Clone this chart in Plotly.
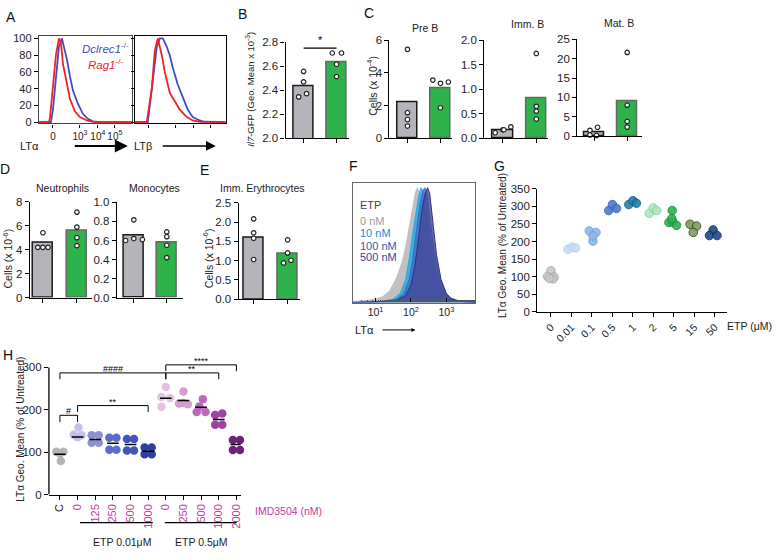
import plotly.graph_objects as go

W, H = 778, 560
FONT = "Arial, Liberation Sans, sans-serif"

# ---------------- data ----------------
# A: histograms (x in display units of each box, y in % of max)
a1_red_x = [0, 10, 11, 14, 17, 20, 22, 24, 28, 31, 36, 41, 48, 54, 61, 93]
a1_red_y = [0, 0, 5, 40, 80, 100, 95, 70, 45, 28, 13, 6, 2, 0.5, 0, 0]
a1_blue_x = [0, 12, 14, 18, 20, 23, 25, 28, 31, 34, 39, 44, 49, 54, 61, 93]
a1_blue_y = [0, 0, 15, 60, 90, 100, 90, 75, 55, 38, 22, 10, 4, 1, 0, 0]
a2_red_x = [0, 12, 17, 20, 23, 27, 30, 35, 40, 45, 52, 58, 65, 91]
a2_red_y = [0, 0, 40, 85, 100, 80, 60, 35, 25, 15, 6, 2, 0.5, 0]
a2_blue_x = [0, 13, 18, 22, 25, 28, 32, 35, 38, 43, 48, 53, 58, 65, 70, 91]
a2_blue_y = [0, 0, 50, 90, 100, 100, 90, 80, 65, 45, 30, 15, 6, 2, 0.5, 0]

# B
b_gray = [2.556, 2.469, 2.344, 2.371]
b_green = [2.71, 2.71, 2.616, 2.513]
b_bars = [2.434, 2.637]

# C
preb_gray = [5.44, 1.56, 1.14, 0.74]
preb_green = [3.56, 3.36, 3.44, 1.86]
preb_bars = [2.2, 3.04]
immb_gray = [0.11, 0.17, 0.17, 0.23]
immb_green = [1.73, 0.65, 0.55, 0.39]
immb_bars = [0.153, 0.82]
matb_gray = [1.5, 2.3, 0.3, 0.2]
matb_green = [21.6, 8.0, 3.8, 2.35]
matb_bars = [1.05, 8.9]

# D
neu_gray = [5.41, 4.19, 4.19, 4.19]
neu_green = [7.13, 5.88, 5.0, 4.33]
neu_bars = [4.54, 5.55]
mono_gray = [0.817, 0.6, 0.62, 0.61]
mono_green = [0.69, 0.64, 0.55, 0.42]
mono_bars = [0.655, 0.575]

# E
ery_gray = [2.08, 1.72, 1.58, 1.03]
ery_green = [1.54, 1.2, 0.94, 1.01]
ery_bars = [1.6, 1.17]

# F: histograms, x as log10 of LTa intensity
f_labels = ["0 nM", "10 nM", "100 nM", "500 nM"]
f0_lx = [0.35, 0.5, 0.8, 1.0, 1.2, 1.4, 1.6, 1.75, 1.85, 1.95, 2.05, 2.12, 2.18, 2.25, 2.35, 2.45, 2.55, 2.7, 2.85, 3.0, 3.2, 3.5, 3.82]
f0_y = [1, 1, 2, 3, 5, 10, 22, 35, 48, 65, 85, 95, 100, 95, 80, 60, 40, 20, 10, 5, 2, 0.5, 0]
f10_lx = [0.35, 1.2, 1.5, 1.7, 1.85, 1.95, 2.05, 2.15, 2.22, 2.28, 2.34, 2.42, 2.5, 2.6, 2.75, 2.9, 3.05, 3.3, 3.6, 3.82]
f10_y = [0, 1, 3, 8, 20, 38, 60, 80, 93, 100, 97, 85, 65, 40, 20, 10, 5, 1.5, 0.5, 0]
f100_lx = [0.35, 1.3, 1.6, 1.8, 1.95, 2.05, 2.15, 2.25, 2.33, 2.39, 2.45, 2.55, 2.65, 2.8, 2.95, 3.1, 3.4, 3.7, 3.82]
f100_y = [0, 1, 3, 8, 20, 38, 62, 85, 97, 100, 95, 72, 45, 22, 10, 4, 1, 0.3, 0]
f500_lx = [0.35, 1.3, 1.6, 1.85, 2.0, 2.1, 2.2, 2.3, 2.4, 2.47, 2.53, 2.62, 2.72, 2.85, 3.0, 3.15, 3.4, 3.7, 3.82]
f500_y = [0, 1, 2, 6, 15, 30, 52, 78, 95, 100, 95, 70, 42, 20, 8, 3, 1, 0.3, 0]

# G
g_cats = ["0", "0.01", "0.1", "0.5", "1", "2", "5", "15", "50"]
g_vals = [
    [117, 101, 100, 94, 96],
    [178, 184, 182],
    [230, 226, 201, 216],
    [288, 305, 294],
    [305, 316, 309],
    [280, 295, 288],
    [288, 254, 256, 246, 265],
    [249, 244, 226],
    [233, 217, 217],
]

# H
h_cats = ["C", "0", "125", "250", "500", "1000", "0", "250", "500", "1000", "2000"]
h_vals = [
    [101, 101, 97, 79],
    [158, 141, 140, 135],
    [140, 140, 122, 122],
    [134, 134, 106, 106],
    [131, 131, 104, 104],
    [111, 111, 95, 95],
    [254, 230, 228, 207],
    [243, 215, 213, 216],
    [225, 208, 195, 195],
    [188, 191, 165, 165],
    [129, 129, 105, 105],
]
h_means = [95, 136, 130, 121, 118, 102, 227, 222, 206, 177, 118]
# brackets: (from, to, level, drop, label)
h_brackets = [
    (0, 6, 287, 272, "####"),
    (6, 10, 306, 291, "****"),
    (6, 9, 287, 272, "**"),
    (1, 5, 210, 195, "**"),
    (0, 1, 187, 171, "#"),
]

# ---------------- styles / positions ----------------
GRAY_BAR = "#b4b4ba"
GREEN_BAR = "#2eb34b"
MAGENTA = "#c23aa6"

dot_off = {
    "b": ([0, 0, -0.15, 0.09], [-0.13, 0.15, 0, 0]),
    "preb": ([0, 0, 0, 0], [-0.23, 0, 0.24, 0]),
    "immb": ([-0.23, 0, 0.03, 0.24], [0, 0, 0, 0]),
    "matb": ([-0.13, 0.1, -0.13, 0.07], [0, 0, 0, 0]),
    "neu": ([0, -0.15, 0, 0.15], [0, 0, 0, 0]),
    "mono": ([0, -0.25, 0, 0.26], [0, 0, 0, 0]),
    "ery": ([0, 0, 0, 0], [0, 0, -0.12, 0.1]),
}
g_off = [
    [0, -0.17, 0.15, 0.1, -0.08],
    [-0.17, 0.03, 0.2],
    [-0.13, 0.2, 0.05, 0.05],
    [-0.18, 0, 0.2],
    [-0.2, 0, 0.17],
    [-0.2, 0, 0.16],
    [-0.08, -0.24, -0.05, 0.13, -0.1],
    [-0.21, 0.11, -0.05],
    [-0.08, -0.26, 0.11],
]
g_fill = ["#c8c8c8", "#c9def4", "#8db6ea", "#4e79cc", "#1f7fae", "#aee8bf", "#2db34f", "#7f9c5e", "#1f4a86"]
g_edge = ["#a8a8a8", "#b4cfee", "#74a2e0", "#3a63b8", "#175f85", "#7fd39a", "#1c8c38", "#3a4a2a", "#14305a"]
h_off = [
    [-0.2, 0.2, 0.0, 0.05],
    [0.05, -0.22, 0.22, 0],
    [-0.2, 0.2, -0.2, 0.2],
    [-0.2, 0.2, -0.2, 0.2],
    [-0.2, 0.2, -0.2, 0.2],
    [-0.2, 0.2, -0.2, 0.2],
    [0, -0.25, 0.25, -0.25],
    [0, -0.25, 0.25, 0],
    [0.1, -0.1, -0.25, 0.25],
    [-0.2, 0.2, -0.2, 0.2],
    [-0.2, 0.2, -0.2, 0.2],
]
h_col = ["#b5b5b5", "#c2c2ea", "#8d90d2", "#5b6dca", "#4056ba", "#2d3fa0",
         "#e6c0e2", "#d69cd2", "#bb68bb", "#9e42a2", "#6f217a"]


def px_x(a, b):
    return [a / W, b / W]


def px_y(top, bottom):
    return [1 - bottom / H, 1 - top / H]


def px(x, y):
    return x / W, 1 - y / H


base_axis = dict(showline=True, linecolor="black", linewidth=1.3, ticks="outside",
                 ticklen=4, tickwidth=1.2, tickcolor="black", showgrid=False,
                 zeroline=False, tickfont=dict(size=11.5, color="#222", family=FONT))

fig = go.Figure()
layout = {}
annotations = []
shapes = []


def add_axes(n, xdom, ydom, xextra, yextra):
    xa = dict(base_axis)
    xa.update(domain=px_x(*xdom), anchor="y%d" % n)
    xa.update(xextra)
    ya = dict(base_axis)
    ya.update(domain=px_y(*ydom), anchor="x%d" % n)
    ya.update(yextra)
    layout["xaxis%d" % n] = xa
    layout["yaxis%d" % n] = ya


def text(x, y, s, size=11, color="#222", angle=0, xanchor="center", yanchor="middle"):
    xx, yy = px(x, y)
    annotations.append(dict(x=xx, y=yy, xref="paper", yref="paper", text=s, showarrow=False,
                            textangle=angle, xanchor=xanchor, yanchor=yanchor,
                            font=dict(size=size, color=color, family=FONT)))


def arrow(x0, x1, y, width, size):
    xx, yy = px(x1, y)
    annotations.append(dict(x=xx, y=yy, xref="paper", yref="paper", ax=x0 - x1, ay=0,
                            axref="pixel", ayref="pixel", showarrow=True, arrowhead=2,
                            arrowwidth=width, arrowsize=size, arrowcolor="black", text=" "))


# ---------------- A ----------------
hist_y = dict(range=[-1.5, 102.5], tickvals=[0, 20, 40, 60, 80, 100], mirror=True, ticks="outside")
add_axes(1, (39, 132), (31, 120),
         dict(range=[0, 93], tickvals=[14, 41, 59, 76], tickangle=0,
              ticktext=["0", "10<sup>3</sup>", "10<sup>4</sup>", "10<sup>5</sup>"], mirror=True,
              linecolor="#444", ticklen=3, tickfont=dict(size=10, color="#222", family=FONT)),
         dict(hist_y, linecolor="#444", tickfont=dict(size=11, color="#222", family=FONT)))
add_axes(2, (135, 226), (31, 120),
         dict(range=[0, 91], tickvals=[14, 41, 59, 76], showticklabels=False, mirror=True, ticklen=3),
         dict(hist_y, showticklabels=False, ticklen=3))
for n, xs, ys, col in [(1, a1_blue_x, a1_blue_y, "#3b4fc0"), (1, a1_red_x, a1_red_y, "#f0202a"),
                       (2, a2_blue_x, a2_blue_y, "#3b4fc0"), (2, a2_red_x, a2_red_y, "#f0202a")]:
    fig.add_trace(go.Scatter(x=xs, y=ys, mode="lines", line=dict(color=col, width=1.8),
                             xaxis="x%d" % n, yaxis="y%d" % n, showlegend=False))
text(80, 43, "<i>Dclrec1</i><sup>-/-</sup>", size=11.5, color="#3b4fc0", xanchor="left")
text(86, 59, "<i>Rag1</i><sup>-/-</sup>", size=11.5, color="#f0202a", xanchor="left")
text(30, 143, "LTα", size=11)
text(143, 143, "LTβ", size=11)
arrow(72, 128, 143, 2, 1.3)
arrow(160, 216, 143, 1.5, 1.3)

# ---------------- bar panels ----------------
def bar_panel(n, key, xdom, ydom, yrange, ytick, gray, green, bars, centers_px):
    c0, c1 = centers_px
    unit = c1 - c0
    left = (xdom[0] - c0) / unit
    right = (xdom[1] - c0) / unit
    add_axes(n, xdom, ydom,
             dict(range=[left, right], tickvals=[0, 1], showticklabels=False),
             dict(range=yrange, dtick=ytick))
    fig.add_trace(go.Bar(x=[0, 1], y=bars, width=0.6,
                         marker=dict(color=[GRAY_BAR, GREEN_BAR],
                                     line=dict(color=["#1a1a1a", "#666666"], width=1.5)),
                         xaxis="x%d" % n, yaxis="y%d" % n, showlegend=False))
    og, ok = dot_off[key]
    for i, (vals, offs) in enumerate([(gray, og), (green, ok)]):
        fig.add_trace(go.Scatter(x=[i + o for o in offs], y=vals, mode="markers",
                                 marker=dict(size=4.5, color="white", line=dict(color="#222", width=1.2)),
                                 xaxis="x%d" % n, yaxis="y%d" % n, showlegend=False, cliponaxis=False))


bar_panel(3, "b", (286, 349), (37, 135), [2.0, 2.8], 0.2, b_gray, b_green, b_bars, (304, 337))
bar_panel(4, "preb", (390, 453), (35, 135), [0, 6], 2, preb_gray, preb_green, preb_bars, (408, 441))
bar_panel(5, "immb", (485, 549), (35, 135), [0, 2], 0.5, immb_gray, immb_green, immb_bars, (503.5, 537))
bar_panel(6, "matb", (578, 643), (34, 133), [0, 25], 5, matb_gray, matb_green, matb_bars, (595, 628))
bar_panel(7, "neu", (30, 92), (200, 298), [0, 8], 2, neu_gray, neu_green, neu_bars, (43, 77))
bar_panel(8, "mono", (117, 183), (200.7, 298), [0, 1], 0.2, mono_gray, mono_green, mono_bars, (134, 167))
bar_panel(9, "ery", (239, 300), (201, 299.7), [0, 2.5], 0.5, ery_gray, ery_green, ery_bars, (254, 288))
layout["yaxis3"]["tickformat"] = ".1f"
layout["yaxis5"]["tickformat"] = ".1f"
layout["yaxis8"]["tickformat"] = ".1f"
layout["yaxis9"]["tickformat"] = ".1f"

# B significance
shapes.append(dict(type="line", xref="x3", yref="y3", x0=0, x1=1, y0=2.75, y1=2.75,
                   line=dict(color="black", width=1.2)))
annotations.append(dict(x=0.5, y=2.75, xref="x3", yref="y3", text="*", showarrow=False,
                        yanchor="bottom", font=dict(size=11, color="black", family=FONT)))

text(251, 85, "<i>Il7</i>-GFP (Geo. Mean x 10<sup>-3</sup>)", size=9.5, angle=-90)
text(426, 22, "Pre B", size=10.5)
text(528, 18, "Imm. B", size=10.5)
text(620, 17, "Mat. B", size=10.5)
text(372, 82, "Cells (x 10<sup>-4</sup>)", size=10.5, angle=-90)
text(63, 186, "Neutrophils", size=10.5)
text(155, 186, "Monocytes", size=10.5)
text(263, 186, "Imm. Erythrocytes", size=10.5)
text(7, 258, "Cells (x 10<sup>-6</sup>)", size=10.5, angle=-90)
text(208, 258, "Cells (x 10<sup>-6</sup>)", size=10.5, angle=-90)

# ---------------- F ----------------
add_axes(10, (353, 476), (181, 303),
         dict(type="log", range=[0.35, 3.82], tickvals=[10, 100, 1000],
              ticktext=["10<sup>1</sup>", "10<sup>2</sup>", "10<sup>3</sup>"], ticks="inside",
              ticklen=4, mirror=True, linecolor="#666", linewidth=1.2,
              minor=dict(ticks="inside", ticklen=2, tickcolor="#555", showgrid=False),
              tickfont=dict(size=10.5, color="#222", family=FONT)),
         dict(range=[0, 104], showticklabels=False, ticks="", mirror=True, linecolor="#666", linewidth=1.2))
f_series = [
    (f0_lx, f0_y, "rgba(190,190,190,0.95)", "#c0c0c0"),
    (f10_lx, f10_y, "rgba(41,171,226,0.85)", "#29abe2"),
    (f100_lx, f100_y, "rgba(59,110,200,0.8)", "#3b6ec8"),
    (f500_lx, f500_y, "rgba(70,72,150,0.8)", "#2e3180"),
]
for lx, ys, fill, line in f_series:
    fig.add_trace(go.Scatter(x=[10 ** v for v in lx], y=ys, mode="lines", fill="tozeroy",
                             fillcolor=fill, line=dict(color=line, width=1),
                             xaxis="x10", yaxis="y10", showlegend=False))
text(358, 203, "ETP", size=11, color="#444", xanchor="left")
for lab, yy, col in zip(f_labels, [220, 232, 245, 257], ["#9a9a9a", "#2a86d6", "#3558b4", "#3b3c9e"]):
    text(358, yy, lab, size=11, color=col, xanchor="left")
text(365, 331, "LTα", size=11)
arrow(380, 416, 331, 1, 0.8)

# ---------------- G ----------------
g_unit = 20.5
add_axes(11, (538, 728), (186.7, 312.7),
         dict(range=[(538 - 551.7) / g_unit, (728 - 551.7) / g_unit],
              tickvals=list(range(len(g_cats))), ticktext=g_cats, tickangle=-45,
              tickfont=dict(size=10.5, color="#222", family=FONT)),
         dict(range=[0, 350], dtick=50))
for i, vals in enumerate(g_vals):
    fig.add_trace(go.Scatter(x=[i + o for o in g_off[i]], y=vals, mode="markers",
                             marker=dict(size=8.5, color=g_fill[i], opacity=0.9,
                                         line=dict(color=g_edge[i], width=1)),
                             xaxis="x11", yaxis="y11", showlegend=False, cliponaxis=False))
text(750, 327, "ETP (μM)", size=10.5)
text(503, 245, "LTα Geo. Mean (% of Untreated)", size=10, angle=-90)

# ---------------- H ----------------
# y range goes to 320 so the brackets above 300 stay visible; axis line drawn only to 300
h_unit = 17.67
h_ytop = 369.3 - 20 * 130 / 300
h_text = ['<span style="color:#222">C</span>'] + h_cats[1:]
add_axes(12, (49, 241), (h_ytop, 499.3),
         dict(range=[(49 - 60) / h_unit, (241 - 60) / h_unit],
              tickvals=list(range(len(h_cats))), ticktext=h_text, tickangle=-90,
              tickfont=dict(size=11, color=MAGENTA, family=FONT)),
         dict(range=[0, 320], tickvals=[0, 100, 200, 300], showline=False))
shapes.append(dict(type="line", xref="x12 domain", yref="y12", x0=0, x1=0, y0=0, y1=300,
                   line=dict(color="black", width=1.3)))
for i, vals in enumerate(h_vals):
    fig.add_trace(go.Scatter(x=[i + o for o in h_off[i]], y=vals, mode="markers",
                             marker=dict(size=8.5, color=h_col[i]),
                             xaxis="x12", yaxis="y12", showlegend=False, cliponaxis=False))
    fig.add_trace(go.Scatter(x=[i - 0.33, i + 0.33], y=[h_means[i], h_means[i]], mode="lines",
                             line=dict(color="black", width=1.5),
                             xaxis="x12", yaxis="y12", showlegend=False, cliponaxis=False))
for a, b, lev, drop, lab in h_brackets:
    shapes.append(dict(type="path", xref="x12", yref="y12",
                       path="M %s,%s L %s,%s L %s,%s L %s,%s" % (a, drop, a, lev, b, lev, b, drop),
                       line=dict(color="black", width=1)))
    annotations.append(dict(x=(a + b) / 2, y=lev, xref="x12", yref="y12", text=lab, showarrow=False,
                            yanchor="bottom", yshift=-3, font=dict(size=9, color="black", family=FONT)))
text(21, 432, "LTα Geo. Mean (% of Untreated)", size=10, angle=-90)
text(253, 516, "IMD3504 (nM)", size=10.5, color=MAGENTA, xanchor="left")
for x0, x1, cx, lab in [(80, 153, 122, "ETP 0.01μM"), (165, 237, 202, "ETP 0.5μM")]:
    shapes.append(dict(type="line", xref="paper", yref="paper", x0=x0 / W, x1=x1 / W,
                       y0=1 - 528 / H, y1=1 - 528 / H, line=dict(color="black", width=1.2)))
    text(cx, 548, lab, size=10.5)

# ---------------- panel letters ----------------
for lab, x, y in [("A", 11, 11), ("B", 243, 8), ("C", 369, 7), ("D", 5, 167), ("E", 205, 168),
                  ("F", 354, 163), ("G", 500, 163), ("H", 8, 357)]:
    text(x, y, lab, size=14, color="#111")

fig.update_layout(**layout)
fig.update_layout(width=W, height=H, margin=dict(l=0, r=0, t=0, b=0),
                  paper_bgcolor="white", plot_bgcolor="rgba(0,0,0,0)",
                  font=dict(family=FONT), bargap=0,
                  annotations=annotations, shapes=shapes, showlegend=False)

fig.write_html("out.html", config={"displayModeBar": False},
               post_script="document.body.style.margin='0px';")
